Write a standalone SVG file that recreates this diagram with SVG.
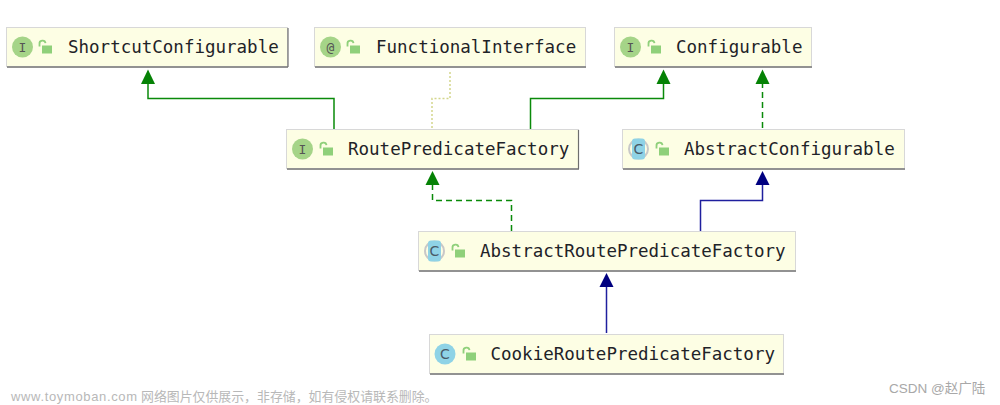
<svg xmlns="http://www.w3.org/2000/svg" width="1000" height="405" viewBox="0 0 1000 405">
<style>
.box{fill:#fdfee4;stroke:#d8d8d8;stroke-width:1}
.sh{fill:none;stroke:#929292;stroke-width:2}
.sh2{fill:none;stroke:#6e6e6e;stroke-width:1.2}
.t{font-family:"DejaVu Sans Mono","Liberation Mono",monospace;font-size:17.5px;fill:#1f2328}
.ic{font-family:"DejaVu Sans Mono",monospace;font-size:13px;fill:#555;text-anchor:middle}
.ic2{font-family:"DejaVu Sans",sans-serif;font-size:14px;fill:#4a5a66;text-anchor:middle}
.ig{fill:#a5d488}
.ib{fill:#8fd3e6}
.lk{fill:#8fd07a}
.lks{fill:none;stroke:#8fd07a;stroke-width:1.8}
.g{fill:none;stroke:#0a8a0a;stroke-width:1.5}
.b{fill:none;stroke:#1f1f9e;stroke-width:1.5}
.d{stroke-dasharray:6 4}
.o{fill:none;stroke:#d3d68c;stroke-width:1.5;stroke-dasharray:2 2}
.wm{font-family:"Liberation Sans","Noto Sans CJK SC",sans-serif;font-size:13px;fill:#b8b8b8}
.ah{fill:#058205}
.ab{fill:#000080}
</style>
<defs>
<g id="lock"><path class="lks" d="M-4.500 -1.500V-4a3 3 0 0 1 6 -0.800"/><rect class="lk" x="-2" y="-2.500" width="10" height="8"/></g>
</defs>
<g id="connectors">
<path class="g" d="M334 129V98.500H148V84"/>
<path class="ah" d="M141 84L148 69.500L155 84Z"/>
<path class="o" d="M432 128V98.500H450V70"/>
<path class="g" d="M530.500 129V98.500H663.500V84"/>
<path class="ah" d="M656.500 84L663.500 69.500L670.500 84Z"/>
<path class="g d" d="M762.500 128V84"/>
<path class="ah" d="M755.500 84L762.500 69.500L769.500 84Z"/>
<path class="g d" d="M511.500 231V200.500H432.500V185"/>
<path class="ah" d="M425.500 185L432.500 171L439.500 185Z"/>
<path class="b" d="M700.500 231V200.500H762.500V185"/>
<path class="ab" d="M755.500 185L762.500 171L769.500 185Z"/>
<path class="b" d="M606.500 333V287"/>
<path class="ab" d="M599.500 287L606.500 273L613.500 287Z"/>
</g>
<g id="shortcut-configurable">
<rect class="box" x="6.500" y="27.500" width="281" height="39"/>
<path class="sh" d="M7 67H288"/><path class="sh2" d="M288 28V67"/>
<circle class="ig" cx="22.500" cy="47" r="10.500"/><text class="ic" x="22.500" y="51.500">I</text>
<use href="#lock" x="44" y="48"/>
<text class="t" x="68" y="53">ShortcutConfigurable</text>
</g>
<g id="functional-interface">
<rect class="box" x="314.500" y="27.500" width="271" height="39"/>
<path class="sh" d="M315 67H586"/>
<circle class="ig" cx="330.500" cy="47" r="10.500"/><text class="ic" x="330.500" y="51.500">@</text>
<use href="#lock" x="352" y="48"/>
<text class="t" x="376" y="53">FunctionalInterface</text>
</g>
<g id="configurable">
<rect class="box" x="614.500" y="27.500" width="197" height="39"/>
<path class="sh" d="M615 67H812"/>
<circle class="ig" cx="630.500" cy="47" r="10.500"/><text class="ic" x="630.500" y="51.500">I</text>
<use href="#lock" x="653" y="48"/>
<text class="t" x="676" y="53">Configurable</text>
</g>
<g id="route-predicate-factory">
<rect class="box" x="286.500" y="129.500" width="292" height="39"/>
<path class="sh" d="M287 169H579"/><path class="sh2" d="M578.500 130V169"/>
<circle class="ig" cx="302.500" cy="149" r="10.500"/><text class="ic" x="302.500" y="153.500">I</text>
<use href="#lock" x="325" y="150"/>
<text class="t" x="348" y="155">RoutePredicateFactory</text>
</g>
<g id="abstract-configurable">
<rect class="box" x="622.500" y="129.500" width="282" height="39"/>
<path class="sh" d="M623 169H905"/>
<circle cx="638.500" cy="149" r="9.500" fill="none" stroke="#c8c8c8" stroke-width="2"/>
<rect class="ib" x="632" y="138.500" width="13" height="21" rx="3"/><text class="ic2" x="638.500" y="154">C</text>
<use href="#lock" x="661" y="150"/>
<text class="t" x="684" y="155">AbstractConfigurable</text>
</g>
<g id="abstract-route-predicate-factory">
<rect class="box" x="418.500" y="231.500" width="377" height="39"/>
<path class="sh" d="M419 271H796"/>
<circle cx="434.500" cy="251" r="9.500" fill="none" stroke="#c8c8c8" stroke-width="2"/>
<rect class="ib" x="428" y="240.500" width="13" height="21" rx="3"/><text class="ic2" x="434.500" y="256">C</text>
<use href="#lock" x="457" y="252"/>
<text class="t" x="480" y="257">AbstractRoutePredicateFactory</text>
</g>
<g id="cookie-route-predicate-factory">
<rect class="box" x="429.500" y="334.500" width="354" height="39"/>
<path class="sh" d="M430 374H784"/>
<circle cx="445" cy="354" r="10.500" fill="#8fd3e6"/><text class="ic2" x="445" y="359">C</text>
<use href="#lock" x="468" y="355"/>
<text class="t" x="490.500" y="360">CookieRoutePredicateFactory</text>
</g>
<text class="wm" x="11" y="401" letter-spacing="0.65">www.toymoban.com</text>
<text class="wm" x="141" y="401" style="font-size:12.9px">网络图片仅供展示，非存储，如有侵权请联系删除。</text>
<text class="wm" x="889" y="393" style="font-size:13.5px;fill:#a8a8a8">CSDN @赵广陆</text>
</svg>
